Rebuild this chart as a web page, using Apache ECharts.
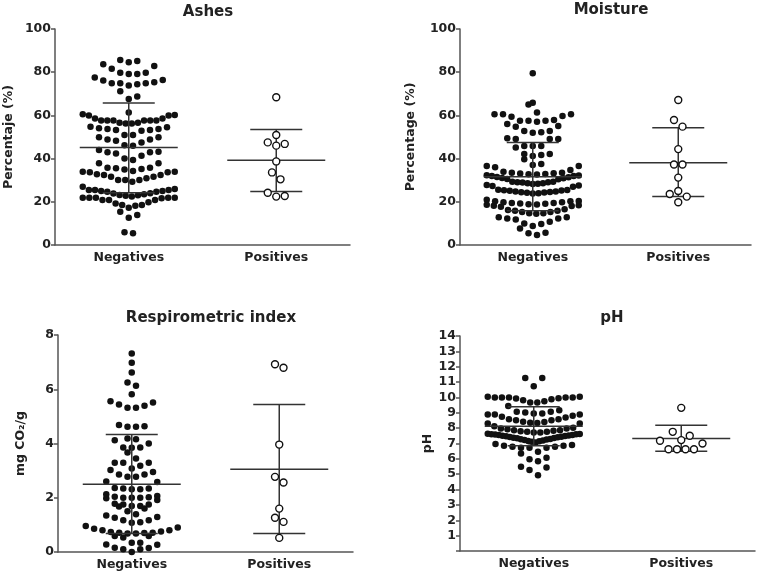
<!DOCTYPE html>
<html><head><meta charset="utf-8">
<script src="https://cdn.jsdelivr.net/npm/echarts@6/dist/echarts.min.js"></script>
<style>html,body{margin:0;padding:0;background:#fff}#c{width:757px;height:571px}</style>
</head><body><div id="c"></div>
<script>
const categories = ['Negatives', 'Positives'];
const panelTitles = ['Ashes', 'Moisture', 'Respirometric index', 'pH'];
const yNames = ['Percentaje (%)', 'Percentage (%)', 'mg CO\u2082/g', 'pH'];

const ashesNeg = [
82.9, 85.2, 83.7, 84.6, 85.6,
79.8, 79.2, 79.2, 79.8, 81.6,
77.6, 76.1, 74.9, 74.9, 73.9, 71.2, 74.4, 74.9, 75.3, 76.4,
68.7, 67.6, 61.3,
60.5, 59.9, 58.6, 57.6, 57.6, 57.6, 56.6, 57.6, 57.6, 57.6, 58.6, 59.9, 60.2, 56.3, 56.6, 56.3,
54.0, 53.7, 53.7, 53.2, 52.9, 53.2, 54.5, 54.8,
50.9, 49.9, 48.9, 48.3, 48.9, 47.4, 49.9, 50.9, 46.0, 46.2,
43.2, 42.9, 44.0, 40.1, 39.4, 41.3, 42.9, 42.4,
37.8, 35.8, 35.0, 34.3, 33.7, 33.9, 35.2, 35.5, 35.8, 37.8,
33.7, 32.4, 31.6, 30.1, 30.9, 30.1, 31.6, 32.4, 32.7, 33.9,
29.3, 30.1, 27.0,
25.9, 25.5, 25.0, 24.7, 23.9, 24.0, 24.7, 25.0, 25.5, 25.5, 23.5, 23.2, 23.0, 22.8,
21.6, 20.8, 19.8, 21.9, 21.9, 21.9, 21.9, 21.9, 22.4, 19.2, 20.8, 20.8,
18.5, 18.5, 17.3, 18.2,
13.9, 12.6, 15.4,
5.4, 5.9
];
const ashesPos = [68.4, 50.9, 46.8, 46.0, 47.5, 38.7, 33.6, 30.4, 24.2, 22.4, 22.7];
const ashesMean = [45.1, 39.2];
const ashesLow = [24.2, 24.8];
const ashesHigh = [65.7, 53.5];

const moistNeg = [
79.5, 65.1, 65.9,
60.5, 59.7, 61.3, 59.4, 60.5, 60.5,
57.9, 57.5, 56.0, 57.1, 54.8, 57.5, 55.1, 57.5,
52.8, 52.0, 52.8, 52.2,
49.1, 49.1, 49.1, 49.4,
45.8, 45.8, 45.1, 45.8,
42.1, 41.2, 39.7, 41.7, 42.1,
37.0, 36.6, 34.7, 33.9, 36.0, 36.6, 37.5,
33.5, 33.2, 32.9, 32.6, 32.2, 31.9, 31.4, 30.9, 30.4, 30.6, 31.0, 31.5, 31.9, 32.3, 32.7, 33.1, 33.5,
29.3, 28.9, 28.6, 28.3, 27.6, 27.0, 27.3, 27.8, 28.2, 28.6, 29.0, 29.1, 29.3,
25.5, 25.2, 24.8, 24.4, 24.2, 23.9, 24.0, 24.3, 24.5, 24.8, 25.1, 25.4, 25.6,
20.4, 20.2, 19.8, 19.5, 19.2, 18.9, 18.6, 18.2, 17.7, 18.0, 18.4, 18.8, 19.1, 19.5, 19.8, 20.2, 20.9,
16.5, 15.3, 14.7, 14.5, 16.2, 14.7, 15.3, 15.8, 15.8,
12.3, 11.8, 10.0, 12.8, 10.8, 12.3, 12.8,
9.7, 8.8, 7.6,
5.7, 4.6, 5.4
];
const moistPos = [67.1, 57.9, 54.8, 44.4, 37.3, 37.3, 31.2, 25.0, 23.6, 22.4, 19.8];
const moistMean = [31.6, 38.1];
const moistLow = [15.9, 22.4];
const moistHigh = [47.5, 54.3];

const respNeg = [
7.32, 6.98, 6.62, 6.25, 6.13, 5.82,
5.56, 5.44, 5.32, 5.32, 5.39, 5.51,
4.64, 4.62, 4.62, 4.68,
4.18, 4.12, 4.00, 4.16, 3.85, 3.67, 3.84, 3.85,
3.45, 3.29, 3.29, 3.29, 3.18, 3.08, 2.86, 2.77, 2.86, 2.95, 3.02, 2.77,
2.58, 2.60,
2.34, 2.31, 2.36, 2.31, 2.34,
2.06, 2.00, 2.00, 1.98, 1.92, 2.00, 2.02, 2.04, 2.13,
1.75, 1.70, 1.60, 1.68, 1.50, 1.70, 1.75, 1.78,
1.39, 1.29, 1.17, 1.08, 1.10, 1.17, 1.26, 1.35,
0.90, 0.80, 0.76, 0.71, 0.68, 0.68, 0.70, 0.71, 0.74, 0.80, 0.86, 0.96,
0.59, 0.53, 0.34, 0.34, 0.59, 0.27, 0.28,
0.15, 0.10, 0.00, 0.10, 0.16
];
const respPos = [6.92, 6.79, 3.96, 2.77, 2.56, 1.60, 1.26, 1.11, 0.52];
const respMean = [2.50, 3.05];
const respLow = [0.68, 0.68];
const respHigh = [4.33, 5.44];

const phNeg = [
11.27, 11.27, 10.73,
9.99, 9.99, 9.95, 9.88, 9.75, 9.67, 10.04, 9.45, 10.04, 9.67, 9.82, 9.93, 9.99, 9.99, 9.99,
9.17, 9.02, 8.95, 8.89, 8.89, 8.89, 8.95, 9.06, 9.06,
8.74, 8.58, 8.52, 8.41, 8.35, 8.30, 8.30, 8.33, 8.40, 8.52, 8.58, 8.69, 8.80,
8.13, 7.98, 7.87, 7.83, 7.76, 7.72, 7.72, 7.76, 7.80, 7.87, 7.93, 7.98, 8.02,
7.62, 7.60, 7.58, 7.55, 7.52, 7.50, 7.47, 7.44, 7.41, 7.38, 7.34, 7.30, 7.26, 7.22, 7.17, 7.12, 7.06, 7.14, 7.20, 7.28, 7.36, 7.43, 7.49, 7.55, 7.61, 7.63,
6.96, 6.85, 6.79, 6.72, 6.72, 6.72, 6.79, 6.85, 6.90,
6.35, 6.46,
5.98, 5.85, 6.07,
5.44, 5.27, 5.49,
4.94
];
const phPos = [9.32, 7.76, 7.18, 7.50, 7.22, 7.00, 6.63, 6.63, 6.63, 6.63];
const phMean = [8.12, 7.33];
const phLow = [6.85, 6.50];
const phHigh = [9.40, 8.19];

// ---------- layout / style (not data) ----------
const FONT = 'DejaVu Sans';
const TXT = '#222';
const AX = '#555';
const panels = [
  {neg: ashesNeg, pos: ashesPos, mean: ashesMean, lo: ashesLow, hi: ashesHigh,
   grid: {left: 55, top: 29, width: 295, height: 216}, ymin: 0, ymax: 100, yint: 20,
   binPx: 10, titleX: 203, titleY: 0, nameGap: 40},
  {neg: moistNeg, pos: moistPos, mean: moistMean, lo: moistLow, hi: moistHigh,
   grid: {left: 460, top: 29, width: 291, height: 216}, ymin: 0, ymax: 100, yint: 20,
   binPx: 9, titleX: 606, titleY: -2, nameGap: 43},
  {neg: respNeg, pos: respPos, mean: respMean, lo: respLow, hi: respHigh,
   grid: {left: 58, top: 335, width: 295, height: 217}, ymin: 0, ymax: 8, yint: 2,
   binPx: 8, titleX: 206, titleY: 306, nameGap: 31},
  {neg: phNeg, pos: phPos, mean: phMean, lo: phLow, hi: phHigh,
   grid: {left: 460, top: 336, width: 295, height: 215}, ymin: 0, ymax: 14, yint: 1,
   binPx: 9, titleX: 607, titleY: 306, nameGap: 19}
];

function swarm(values, cat, p, spacingPx, maxWidthPx) {
  const pxPerVal = p.grid.height / (p.ymax - p.ymin);
  const pxPerX = p.grid.width / 2;
  const s = values.slice().sort((a, b) => a - b);
  const rows = [];
  let cur = [];
  s.forEach(v => {
    if (cur.length && (v - cur[0]) * pxPerVal > p.binPx) { rows.push(cur); cur = []; }
    cur.push(v);
  });
  if (cur.length) rows.push(cur);
  const out = [];
  rows.forEach(row => {
    const n = row.length;
    let sp = spacingPx;
    if ((n - 1) * sp > maxWidthPx) sp = maxWidthPx / (n - 1);
    const slots = [];
    if (n % 2 === 1) {
      slots.push(0);
      for (let k = 1; slots.length < n; k++) { slots.push(k); if (slots.length < n) slots.push(-k); }
    } else {
      for (let k = 0; slots.length < n; k++) { slots.push(k + 0.5); if (slots.length < n) slots.push(-(k + 0.5)); }
    }
    row.forEach((v, i) => out.push([cat + slots[i] * sp / pxPerX, v]));
  });
  return out;
}

const option = {
  animation: false,
  backgroundColor: '#fff',
  textStyle: {fontFamily: FONT},
  title: [], grid: [], xAxis: [], yAxis: [], series: []
};

panels.forEach((p, i) => {
  option.title.push({
    text: panelTitles[i], left: p.titleX, top: p.titleY, textAlign: 'center',
    textStyle: {fontFamily: FONT, fontWeight: 'bold', fontSize: 15, color: TXT}
  });
  option.grid.push(Object.assign({outerBoundsMode: 'none', containLabel: false}, p.grid));
  option.xAxis.push({
    type: 'category', gridIndex: i, data: categories, boundaryGap: true,
    axisLine: {onZero: false, lineStyle: {color: AX, width: 1.5}},
    axisTick: {alignWithLabel: true, length: 4, lineStyle: {color: AX, width: 1.5}},
    axisLabel: {fontFamily: FONT, fontWeight: 'bold', fontSize: 12.5, color: TXT, margin: 6},
    splitLine: {show: false}
  });
  option.xAxis.push({type: 'value', gridIndex: i, min: -0.5, max: 1.5, show: false});
  option.yAxis.push({
    type: 'value', gridIndex: i, min: p.ymin, max: p.ymax, interval: p.yint,
    name: yNames[i], nameLocation: 'middle', nameGap: p.nameGap, nameRotate: 90,
    nameTextStyle: {fontFamily: FONT, fontWeight: 'bold', fontSize: 12.5, color: TXT},
    axisLine: {show: true, onZero: false, lineStyle: {color: AX, width: 1.5}},
    axisTick: {show: true, inside: false, length: 4, lineStyle: {color: AX, width: 1.5}},
    axisLabel: {fontFamily: FONT, fontWeight: 'bold', fontSize: 12.5, color: TXT, margin: 4,
      formatter: v => (i === 3 && v === 0) ? '' : String(v)},
    splitLine: {show: false}
  });
  const xVal = i * 2 + 1;
  option.series.push({
    type: 'scatter', xAxisIndex: xVal, yAxisIndex: i, z: 2,
    data: swarm(p.neg, 0, p, 8.5, 92), symbol: 'circle', symbolSize: 6.5,
    itemStyle: {color: '#111', opacity: 1}
  });
  option.series.push({
    type: 'custom', xAxisIndex: xVal, yAxisIndex: i, z: 3,
    data: categories.map((c, k) => [k, p.mean[k], p.lo[k], p.hi[k]]),
    renderItem: (params, api) => {
      const x = api.value(0);
      const m = api.coord([x, api.value(1)]);
      const lo = api.coord([x, api.value(2)]);
      const hi = api.coord([x, api.value(3)]);
      const st = {stroke: '#333', lineWidth: 1.5};
      const mw = 49, cw = 26;
      return {type: 'group', children: [
        {type: 'line', shape: {x1: m[0] - mw, y1: m[1], x2: m[0] + mw, y2: m[1]}, style: st},
        {type: 'line', shape: {x1: hi[0] - cw, y1: hi[1], x2: hi[0] + cw, y2: hi[1]}, style: st},
        {type: 'line', shape: {x1: lo[0] - cw, y1: lo[1], x2: lo[0] + cw, y2: lo[1]}, style: st},
        {type: 'line', shape: {x1: lo[0], y1: lo[1], x2: hi[0], y2: hi[1]}, style: st}
      ]};
    }
  });
  option.series.push({
    type: 'scatter', xAxisIndex: xVal, yAxisIndex: i, z: 4,
    data: swarm(p.pos, 1, p, 8.5, 92), symbol: 'circle', symbolSize: 7,
    itemStyle: {color: '#fff', borderColor: '#111', borderWidth: 1.4, opacity: 1}
  });
});

const chart = echarts.init(document.getElementById('c'), null, {renderer: 'canvas'});
chart.setOption(option);
</script>
</body></html>
